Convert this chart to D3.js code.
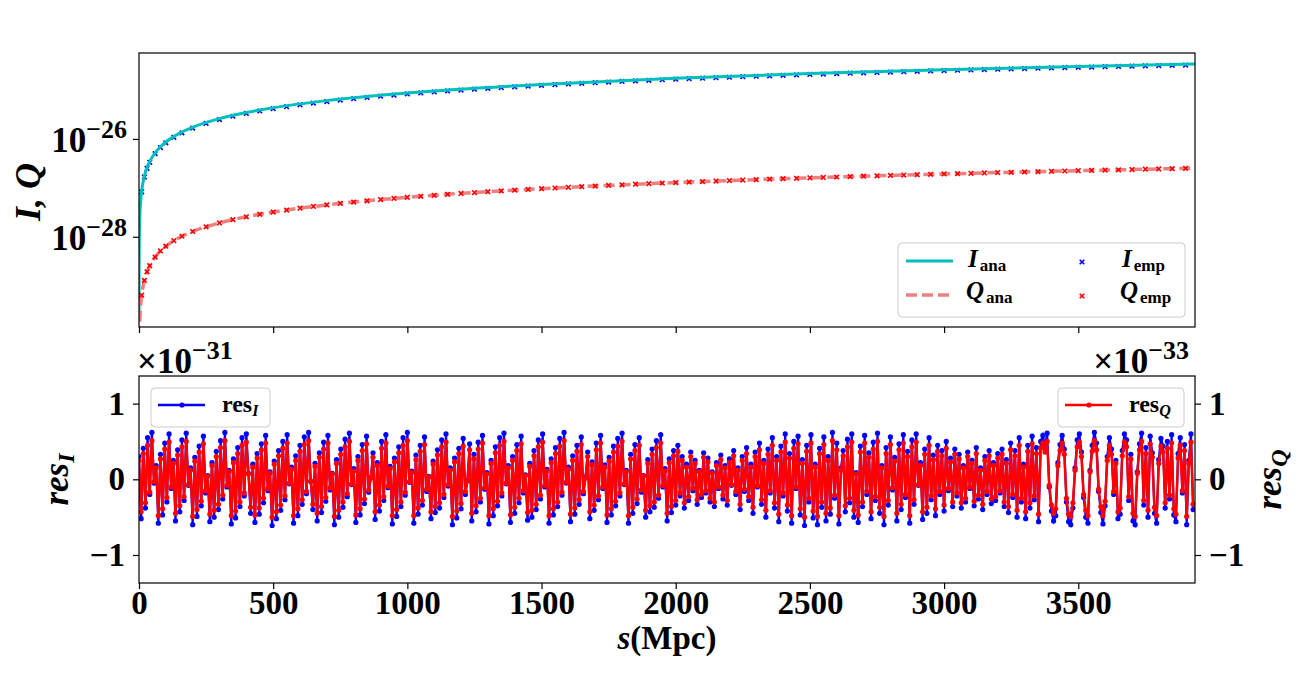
<!DOCTYPE html>
<html>
<head>
<meta charset="utf-8">
<script src="https://cdn.jsdelivr.net/npm/d3@7"></script>
<style>
body { margin: 0; background: #fff; }
text { font-family: "Liberation Serif", "DejaVu Serif", serif; font-weight: bold; fill: #000; }
</style>
</head>
<body>
<svg id="chart" width="1300" height="680"></svg>
<script>

// analytic curves (I in 1e-26, Q in 1e-28)
var sAna = [0.03, 0.3, 1, 2, 3, 5, 7, 10, 15, 20, 30, 40, 60, 80, 100, 150, 200, 300, 400, 500, 700, 1000, 1500, 2000, 2500, 3000, 3500, 3935];
var IAna = [0.00026, 0.0026, 0.00865, 0.0173, 0.026, 0.0433, 0.0606, 0.0865, 0.130, 0.173, 0.260, 0.346, 0.519, 0.692, 0.865, 1.30, 1.73, 2.60, 3.46, 4.33, 6.06, 8.65, 12.98, 17.30, 21.63, 25.95, 30.28, 34.04];
var QAna = [0.0002, 0.0019, 0.0064, 0.0128, 0.0192, 0.032, 0.0448, 0.064, 0.096, 0.128, 0.192, 0.256, 0.384, 0.512, 0.64, 0.96, 1.28, 1.92, 2.56, 3.2, 4.48, 6.4, 9.6, 12.8, 16.0, 19.2, 22.4, 25.18];

// empirical points
var sEmp = [10, 20, 30, 40, 60, 80, 100, 130, 160, 200].concat(d3.range(250, 3901, 50));
var IEmp = [0.083, 0.166, 0.249, 0.332, 0.498, 0.664, 0.83, 1.079, 1.328, 1.66,
  2.075, 2.49, 2.905, 3.32, 3.735, 4.15, 4.565, 4.98, 5.395, 5.81, 6.225, 6.64, 7.055, 7.47, 7.885, 8.3,
  8.715, 9.13, 9.545, 9.96, 10.375, 10.79, 11.205, 11.62, 12.035, 12.45,
  12.865, 13.28, 13.695, 14.11, 14.525, 14.94, 15.355, 15.77, 16.185, 16.6,
  17.015, 17.43, 17.845, 18.26, 18.675, 19.09, 19.505, 19.92, 20.335, 20.75,
  21.165, 21.58, 21.995, 22.41, 22.825, 23.24, 23.655, 24.07, 24.485, 24.9,
  25.315, 25.73, 26.145, 26.56, 26.975, 27.39, 27.805, 28.22, 28.635, 29.05,
  29.465, 29.88, 30.295, 30.71, 31.125, 31.54, 31.955, 32.37];
var QEmp = [0.064, 0.128, 0.192, 0.256, 0.384, 0.512, 0.64, 0.832, 1.024, 1.28,
  1.6, 1.92, 2.24, 2.56, 2.88, 3.2, 3.52, 3.84, 4.16, 4.48, 4.8, 5.12, 5.44, 5.76, 6.08, 6.4,
  6.72, 7.04, 7.36, 7.68, 8.0, 8.32, 8.64, 8.96, 9.28, 9.6, 9.92, 10.24, 10.56, 10.88, 11.2, 11.52, 11.84, 12.16, 12.48, 12.8,
  13.12, 13.44, 13.76, 14.08, 14.4, 14.72, 15.04, 15.36, 15.68, 16.0, 16.32, 16.64, 16.96, 17.28, 17.6, 17.92, 18.24, 18.56, 18.88, 19.2,
  19.52, 19.84, 20.16, 20.48, 20.8, 21.12, 21.44, 21.76, 22.08, 22.4, 22.72, 23.04, 23.36, 23.68, 24.0, 24.32, 24.64, 24.96];

// residuals, one every 8 Mpc (res_I in 1e-31, res_Q in 1e-33)
var sRes = d3.range(0, 3929, 8);
var resI = [
  0.30,-0.52,0.41,-0.38,0.55,-0.20,0.62,-0.05,0.18,-0.58,0.33,-0.47,0.48,-0.30,0.60,-0.12,0.25,-0.55,0.39,-0.43,
  0.52,-0.28,0.61,-0.08,0.15,-0.60,0.29,-0.49,0.44,-0.35,0.57,-0.18,0.05,-0.56,0.22,-0.50,0.37,-0.40,0.51,-0.26,
  0.62,-0.10,0.12,-0.59,0.27,-0.51,0.42,-0.36,0.55,-0.22,0.60,0.08,-0.45,0.20,-0.57,0.34,-0.46,0.47,-0.31,0.58,
  -0.15,0.10,-0.61,0.24,-0.52,0.38,-0.41,0.50,-0.27,0.59,-0.06,0.16,-0.58,0.31,-0.48,0.45,-0.33,0.56,-0.19,0.62,
  -0.03,-0.40,0.21,-0.55,0.35,-0.44,0.49,-0.29,0.58,-0.14,0.08,-0.60,0.26,-0.50,0.40,-0.37,0.53,-0.23,0.61,-0.07,
  0.14,-0.57,0.30,-0.47,0.46,-0.32,0.57,-0.17,0.02,0.35,-0.53,0.22,-0.42,0.50,-0.28,0.59,-0.11,0.17,-0.59,0.28,
  -0.49,0.43,-0.36,0.55,-0.21,0.62,-0.04,0.11,-0.58,0.32,-0.46,0.45,-0.34,0.56,-0.16,0.04,-0.52,0.24,-0.44,0.39,
  -0.38,0.52,-0.24,0.60,-0.09,0.15,-0.60,0.28,-0.51,0.41,-0.39,0.54,-0.20,-0.02,0.47,-0.55,0.33,-0.43,0.49,-0.30,
  0.58,-0.13,0.09,-0.59,0.25,-0.48,0.43,-0.35,0.55,-0.22,0.61,-0.06,0.18,-0.57,0.30,-0.45,0.46,-0.31,0.57,-0.18,
  0.06,-0.54,0.21,-0.50,0.38,-0.40,0.52,-0.26,0.60,-0.10,0.13,-0.58,0.27,-0.47,0.42,-0.36,0.54,-0.21,0.62,-0.05,
  0.16,-0.56,0.31,-0.46,0.45,-0.33,0.56,-0.19,0.03,0.36,-0.52,0.23,-0.41,0.48,-0.27,0.58,-0.12,0.19,-0.57,0.29,
  -0.47,0.44,-0.35,0.54,-0.22,0.61,-0.07,0.12,-0.58,0.33,-0.45,0.46,-0.32,0.55,-0.17,0.05,-0.50,0.26,-0.43,0.40,
  -0.37,0.51,-0.25,0.59,-0.10,0.14,-0.55,0.27,-0.44,0.38,-0.34,0.45,-0.22,0.30,-0.38,0.20,-0.28,0.36,-0.15,0.25,
  -0.33,0.12,-0.24,0.35,-0.18,0.28,-0.30,0.10,-0.36,0.22,-0.12,0.32,-0.26,0.18,-0.34,0.27,-0.08,0.38,-0.20,0.15,
  -0.40,0.30,-0.16,0.42,-0.28,0.20,-0.45,0.36,-0.10,0.48,-0.33,0.25,-0.50,0.40,-0.18,0.55,-0.38,0.30,-0.56,0.44,
  -0.22,0.60,-0.42,0.34,-0.58,0.50,-0.12,0.57,-0.47,0.26,-0.61,0.45,-0.30,0.59,-0.51,0.20,-0.60,0.41,-0.37,0.56,
  -0.55,0.30,-0.46,0.62,-0.25,0.48,-0.59,0.15,0.38,-0.43,0.53,-0.31,0.60,-0.50,0.09,-0.57,0.44,-0.36,0.58,-0.20,
  0.35,-0.52,0.49,-0.28,0.61,-0.45,0.18,-0.60,0.42,-0.34,0.56,-0.14,0.29,-0.55,0.47,-0.40,0.59,-0.24,0.37,-0.58,
  0.52,-0.33,0.60,-0.08,0.22,-0.53,0.40,-0.45,0.55,-0.27,0.32,-0.48,0.45,-0.20,0.38,-0.42,0.50,-0.15,0.28,-0.36,
  0.40,-0.22,0.33,-0.38,0.18,-0.30,0.36,-0.12,0.25,-0.35,0.42,-0.26,0.15,-0.40,0.30,-0.20,0.38,-0.32,0.22,-0.28,
  0.34,-0.18,0.40,-0.36,0.26,-0.44,0.48,-0.24,0.38,-0.50,0.55,-0.30,0.20,-0.52,0.45,-0.38,0.57,-0.27,0.42,-0.56,
  0.50,0.58,0.44,0.61,-0.10,-0.42,-0.55,-0.48,0.22,0.46,0.58,0.40,-0.30,-0.56,-0.60,-0.38,0.15,0.52,0.60,0.36,
  -0.24,-0.50,-0.58,0.12,0.45,0.62,0.48,-0.16,-0.44,-0.59,-0.35,0.30,0.55,0.40,-0.20,0.25,-0.52,-0.46,0.38,0.60,
  0.52,-0.28,0.33,-0.55,-0.60,0.10,0.47,0.61,-0.34,0.42,-0.50,0.57,0.35,-0.45,-0.58,0.26,0.54,0.44,-0.38,0.50,
  -0.26,0.59,-0.47,-0.56,0.34,0.55,-0.18,0.46,-0.60,0.25,0.60,-0.40];
var resQ = [
  0.25,-0.43,0.34,-0.31,0.45,-0.17,0.51,-0.03,0.15,-0.48,0.27,-0.39,0.40,-0.24,0.49,-0.10,0.21,-0.45,0.32,-0.35,
  0.43,-0.23,0.50,-0.07,0.12,-0.49,0.24,-0.40,0.36,-0.29,0.47,-0.15,0.04,-0.46,0.18,-0.41,0.30,-0.33,0.42,-0.21,
  0.51,-0.08,0.10,-0.48,0.22,-0.42,0.34,-0.30,0.45,-0.18,0.49,0.07,-0.37,0.16,-0.47,0.28,-0.38,0.39,-0.25,0.48,
  -0.12,0.08,-0.50,0.20,-0.43,0.31,-0.34,0.41,-0.22,0.48,-0.05,0.13,-0.48,0.25,-0.39,0.37,-0.27,0.46,-0.16,0.51,
  -0.02,-0.33,0.17,-0.45,0.29,-0.36,0.40,-0.24,0.48,-0.11,0.07,-0.49,0.21,-0.41,0.33,-0.30,0.43,-0.19,0.50,-0.06,
  0.11,-0.47,0.25,-0.39,0.38,-0.26,0.47,-0.14,0.02,0.29,-0.43,0.18,-0.34,0.41,-0.23,0.48,-0.09,0.14,-0.48,0.23,
  -0.40,0.35,-0.30,0.45,-0.17,0.51,-0.03,0.09,-0.48,0.26,-0.38,0.37,-0.28,0.46,-0.13,0.03,-0.43,0.20,-0.36,0.32,
  -0.31,0.43,-0.20,0.49,-0.07,0.12,-0.49,0.23,-0.42,0.34,-0.32,0.44,-0.16,-0.02,0.39,-0.45,0.27,-0.35,0.40,-0.25,
  0.48,-0.11,0.07,-0.48,0.21,-0.39,0.35,-0.29,0.45,-0.18,0.50,-0.05,0.15,-0.47,0.25,-0.37,0.38,-0.25,0.47,-0.15,
  0.05,-0.44,0.17,-0.41,0.31,-0.33,0.43,-0.21,0.49,-0.08,0.11,-0.48,0.22,-0.39,0.34,-0.30,0.44,-0.17,0.51,-0.04,
  0.13,-0.46,0.25,-0.38,0.37,-0.27,0.46,-0.16,0.02,0.30,-0.43,0.19,-0.34,0.39,-0.22,0.48,-0.10,0.16,-0.47,0.24,
  -0.39,0.36,-0.29,0.44,-0.18,0.50,-0.06,0.10,-0.48,0.27,-0.37,0.38,-0.26,0.45,-0.14,0.04,-0.41,0.21,-0.35,0.33,
  -0.30,0.42,-0.21,0.48,-0.08,0.11,-0.45,0.22,-0.36,0.31,-0.28,0.37,-0.18,0.25,-0.31,0.16,-0.23,0.30,-0.12,0.21,
  -0.27,0.10,-0.20,0.29,-0.15,0.23,-0.25,0.08,-0.30,0.18,-0.10,0.26,-0.21,0.15,-0.28,0.22,-0.07,0.31,-0.16,0.12,
  -0.33,0.25,-0.13,0.34,-0.23,0.16,-0.37,0.30,-0.08,0.39,-0.27,0.21,-0.41,0.33,-0.15,0.45,-0.31,0.25,-0.46,0.36,
  -0.18,0.49,-0.34,0.28,-0.48,0.41,-0.10,0.47,-0.39,0.21,-0.50,0.37,-0.25,0.48,-0.42,0.16,-0.49,0.34,-0.30,0.46,
  -0.45,0.25,-0.38,0.51,-0.21,0.39,-0.48,0.12,0.31,-0.35,0.43,-0.25,0.49,-0.41,0.07,-0.47,0.36,-0.30,0.48,-0.16,
  0.29,-0.43,0.40,-0.23,0.50,-0.37,0.15,-0.49,0.34,-0.28,0.46,-0.11,0.24,-0.45,0.39,-0.33,0.48,-0.20,0.30,-0.48,
  0.43,-0.27,0.49,-0.07,0.18,-0.43,0.33,-0.37,0.45,-0.22,0.26,-0.39,0.37,-0.16,0.31,-0.34,0.41,-0.12,0.23,-0.30,
  0.33,-0.18,0.27,-0.31,0.15,-0.25,0.30,-0.10,0.21,-0.29,0.34,-0.21,0.12,-0.33,0.25,-0.16,0.31,-0.26,0.18,-0.23,
  0.28,-0.15,0.33,-0.30,0.21,-0.36,0.39,-0.20,0.31,-0.41,0.45,-0.25,0.16,-0.43,0.37,-0.31,0.47,-0.22,0.34,-0.46,
  0.41,0.48,0.36,0.50,-0.08,-0.34,-0.45,-0.39,0.18,0.38,0.48,0.33,-0.25,-0.46,-0.49,-0.31,0.12,0.43,0.49,0.30,
  -0.20,-0.41,-0.48,0.10,0.37,0.51,0.39,-0.13,-0.36,-0.48,-0.29,0.25,0.45,0.33,-0.16,0.21,-0.43,-0.38,0.31,0.49,
  0.43,-0.23,0.27,-0.45,-0.49,0.08,0.39,0.50,-0.28,0.34,-0.41,0.47,0.29,-0.37,-0.48,0.21,0.44,0.36,-0.31,0.41,
  -0.21,0.48,-0.39,-0.46,0.28,0.45,-0.15,0.38,-0.49,0.21,0.49,-0.33];

var xTicks = [0, 500, 1000, 1500, 2000, 2500, 3000, 3500];
var logTickExp = [-28, -26];
var resTicks = [-1, 0, 1];

var svg = d3.select("#chart");

var left = 139, right = 1195;
var top1 = 53, bot1 = 327, top2 = 376, bot2 = 583;

var x = d3.scaleLinear().domain([0, 3935]).range([left, right]);
var yTop = d3.scaleLog().domain([1.43e-30, 5.7e-25]).range([bot1, top1]);
var yRes = d3.scaleLinear().domain([-1.37, 1.365]).range([bot2, top2]);

svg.append("clipPath").attr("id", "clipTop")
  .append("rect").attr("x", left).attr("y", top1).attr("width", right - left).attr("height", bot1 - top1);
svg.append("clipPath").attr("id", "clipBot")
  .append("rect").attr("x", left).attr("y", top2).attr("width", right - left).attr("height", bot2 - top2);

function styleAxis(g) {
  g.select(".domain").remove();
  g.selectAll(".tick line").attr("stroke", "#000").attr("stroke-width", 1.2);
  g.selectAll(".tick text").style("font-size", "33px").style("font-family", "Liberation Serif, serif").style("font-weight", "bold");
}

// ---------- top panel ----------
var topPlot = svg.append("g").attr("clip-path", "url(#clipTop)");

var lineI = d3.line().x(function (d, i) { return x(sAna[i]); }).y(function (d) { return yTop(d * 1e-26); }).curve(d3.curveMonotoneX);
var lineQ = d3.line().x(function (d, i) { return x(sAna[i]); }).y(function (d) { return yTop(d * 1e-28); }).curve(d3.curveMonotoneX);
var cross = "M-2.3,-2.3L2.3,2.3M-2.3,2.3L2.3,-2.3";

topPlot.selectAll(".iemp").data(IEmp).enter().append("path")
  .attr("d", cross)
  .attr("transform", function (d, i) { return "translate(" + x(sEmp[i]) + "," + yTop(d * 1e-26) + ")"; })
  .attr("stroke", "#0000ff").attr("stroke-width", 1.6);

topPlot.append("path").attr("d", lineI(IAna))
  .attr("fill", "none").attr("stroke", "#00bfbf").attr("stroke-width", 3);

topPlot.append("path").attr("d", lineQ(QAna))
  .attr("fill", "none").attr("stroke", "#f08080").attr("stroke-width", 3.5)
  .attr("stroke-dasharray", "11,5");

topPlot.selectAll(".qemp").data(QEmp).enter().append("path")
  .attr("d", cross)
  .attr("transform", function (d, i) { return "translate(" + x(sEmp[i]) + "," + yTop(d * 1e-28) + ")"; })
  .attr("stroke", "#ff0000").attr("stroke-width", 1.6);

svg.append("g").attr("transform", "translate(" + left + ",0)")
  .call(d3.axisLeft(yTop).tickValues(logTickExp.map(function (e) { return Math.pow(10, e); })).tickFormat("").tickSize(6).tickSizeOuter(0))
  .call(styleAxis);
svg.append("g").attr("transform", "translate(0," + bot1 + ")")
  .call(d3.axisBottom(x).tickValues(xTicks).tickFormat("").tickSize(6).tickSizeOuter(0))
  .call(styleAxis);

logTickExp.forEach(function (e) {
  var t = svg.append("text").attr("x", 127).attr("y", yTop(Math.pow(10, e)) + 13)
    .attr("text-anchor", "end").style("font-size", "35px");
  t.append("tspan").text("10");
  t.append("tspan").attr("dy", -14).style("font-size", "26px").text("\u2212" + Math.abs(e));
});

svg.append("rect").attr("x", left).attr("y", top1).attr("width", right - left).attr("height", bot1 - top1)
  .attr("fill", "none").attr("stroke", "#000").attr("stroke-width", 1.2);

var yl = svg.append("text").attr("transform", "translate(40," + ((top1 + bot1) / 2 + 2) + ") rotate(-90)")
  .attr("text-anchor", "middle").style("font-size", "36px").style("font-style", "italic");
yl.text("I, Q");

// top legend
var lg = svg.append("g");
lg.append("rect").attr("x", 898).attr("y", 243).attr("width", 287).attr("height", 74).attr("rx", 4)
  .attr("fill", "#fff").attr("fill-opacity", 0.8).attr("stroke", "#cccccc");
lg.append("line").attr("x1", 906).attr("x2", 953).attr("y1", 261).attr("y2", 261)
  .attr("stroke", "#00bfbf").attr("stroke-width", 3);
lg.append("line").attr("x1", 906).attr("x2", 953).attr("y1", 295).attr("y2", 295)
  .attr("stroke", "#f08080").attr("stroke-width", 3.5).attr("stroke-dasharray", "11,5");
lg.append("path").attr("d", cross).attr("transform", "translate(1082,262)").attr("stroke", "#0000ff").attr("stroke-width", 1.6);
lg.append("path").attr("d", cross).attr("transform", "translate(1082,296)").attr("stroke", "#ff0000").attr("stroke-width", 1.6);

function legendLabel(px, py, main, sub) {
  var t = lg.append("text").attr("x", px).attr("y", py).style("font-size", "25px");
  t.append("tspan").style("font-style", "italic").text(main);
  t.append("tspan").attr("dx", 2).attr("dy", 4).style("font-size", "17px").text(sub);
}
legendLabel(968, 267, "I", "ana");
legendLabel(966, 299, "Q", "ana");
legendLabel(1122, 267, "I", "emp");
legendLabel(1120, 299, "Q", "emp");

// ---------- bottom panel ----------
var botPlot = svg.append("g").attr("clip-path", "url(#clipBot)");

var lineRes = d3.line().x(function (d, i) { return x(sRes[i]); }).y(function (d) { return yRes(d); });

botPlot.append("path").attr("d", lineRes(resI))
  .attr("fill", "none").attr("stroke", "#0000ff").attr("stroke-width", 2.2);
botPlot.selectAll(".dI").data(resI).enter().append("circle")
  .attr("cx", function (d, i) { return x(sRes[i]); }).attr("cy", function (d) { return yRes(d); })
  .attr("r", 2.6).attr("fill", "#0000ff");

botPlot.append("path").attr("d", lineRes(resQ))
  .attr("fill", "none").attr("stroke", "#ff0000").attr("stroke-width", 2.5);
botPlot.selectAll(".dQ").data(resQ).enter().append("circle")
  .attr("cx", function (d, i) { return x(sRes[i]); }).attr("cy", function (d) { return yRes(d); })
  .attr("r", 2.6).attr("fill", "#ff0000");

function fmtRes(d) { return d < 0 ? "\u2212" + Math.abs(d) : d; }
svg.append("g").attr("transform", "translate(" + left + ",0)")
  .call(d3.axisLeft(yRes).tickValues(resTicks).tickFormat(fmtRes).tickSize(6).tickPadding(8).tickSizeOuter(0))
  .call(styleAxis);
svg.append("g").attr("transform", "translate(" + right + ",0)")
  .call(d3.axisRight(yRes).tickValues(resTicks).tickFormat(fmtRes).tickSize(6).tickPadding(8).tickSizeOuter(0))
  .call(styleAxis);
svg.append("g").attr("transform", "translate(0," + bot2 + ")")
  .call(d3.axisBottom(x).tickValues(xTicks).tickFormat(d3.format("d")).tickSize(6).tickPadding(2).tickSizeOuter(0))
  .call(styleAxis);

svg.append("rect").attr("x", left).attr("y", top2).attr("width", right - left).attr("height", bot2 - top2)
  .attr("fill", "none").attr("stroke", "#000").attr("stroke-width", 1.2);

// offset texts
var off1 = svg.append("text").attr("x", 137).attr("y", 373).style("font-size", "35px");
off1.append("tspan").text("\u00d710");
off1.append("tspan").attr("dy", -14).style("font-size", "26px").text("\u221231");
var off2 = svg.append("text").attr("x", 1189).attr("y", 373).attr("text-anchor", "end").style("font-size", "35px");
off2.append("tspan").text("\u00d710");
off2.append("tspan").attr("dy", -14).style("font-size", "26px").text("\u221233");

// axis labels
function resLabel(px, sub) {
  var t = svg.append("text").attr("transform", "translate(" + px + "," + ((top2 + bot2) / 2) + ") rotate(-90)")
    .attr("text-anchor", "middle").style("font-size", "35px").style("font-style", "italic");
  t.append("tspan").text("res");
  t.append("tspan").attr("dy", 6).style("font-size", "24px").text(sub);
}
resLabel(68, "I");
resLabel(1281, "Q");

var xl = svg.append("text").attr("x", 667).attr("y", 649).attr("text-anchor", "middle").style("font-size", "33px");
xl.append("tspan").style("font-style", "italic").text("s");
xl.append("tspan").text("(Mpc)");

// bottom legends
function resLegend(bx, bw, color, sub) {
  var g = svg.append("g");
  g.append("rect").attr("x", bx).attr("y", 388).attr("width", bw).attr("height", 39).attr("rx", 4)
    .attr("fill", "#fff").attr("fill-opacity", 0.8).attr("stroke", "#cccccc");
  g.append("line").attr("x1", bx + 7).attr("x2", bx + 54).attr("y1", 405).attr("y2", 405)
    .attr("stroke", color).attr("stroke-width", 2.4);
  g.append("circle").attr("cx", bx + 31).attr("cy", 405).attr("r", 2.6).attr("fill", color);
  var t = g.append("text").attr("x", bx + 71).attr("y", 412).style("font-size", "24px");
  t.append("tspan").text("res");
  t.append("tspan").attr("dy", 4).style("font-size", "16px").style("font-style", "italic").text(sub);
}
resLegend(151, 119, "#0000ff", "I");
resLegend(1058, 126, "#ff0000", "Q");

</script>
</body>
</html>
